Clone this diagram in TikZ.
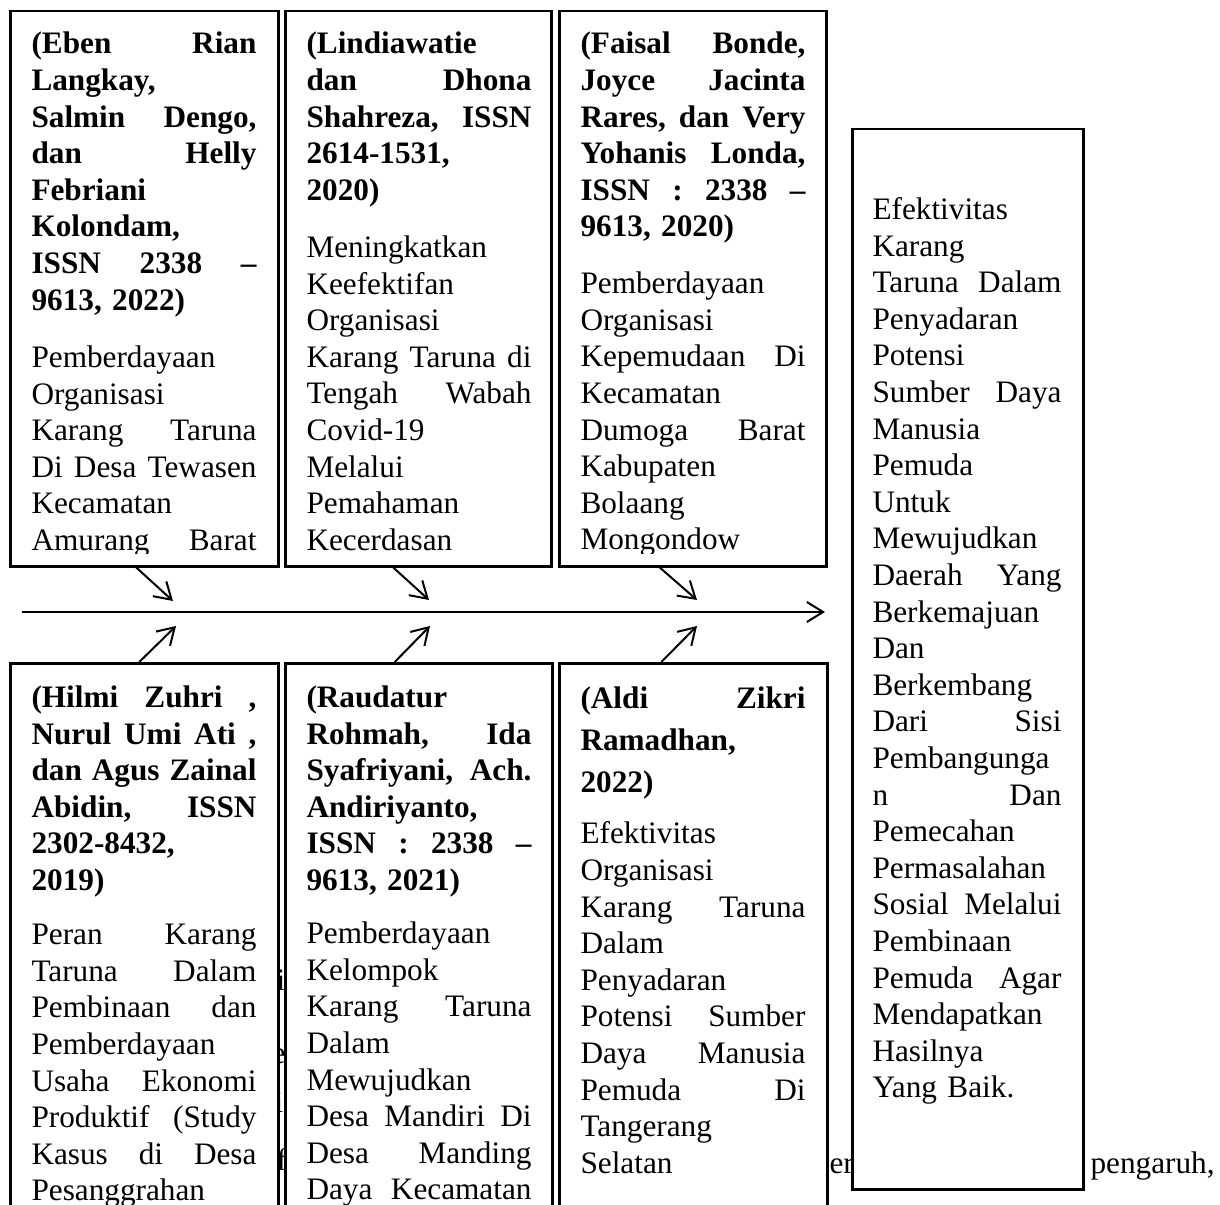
\documentclass[tikz,border=0pt]{standalone}
\usepackage{fontspec}
\setmainfont{Liberation Serif}
\usetikzlibrary{arrows.meta,calc}
\setlength{\parindent}{0pt}
\frenchspacing
\newcommand{\jl}[1]{\makebox[90pt][s]{\spaceskip=\fontdimen2\font plus 1fil\relax#1}}
\newcommand{\jlb}[1]{\makebox[75.6pt][s]{\spaceskip=\fontdimen2\font plus 1fil\relax#1}}
\newcommand{\fs}{\rule{0pt}{10pt}}
\begin{document}
\begin{tikzpicture}[x=0.4pt,y=-0.4pt,
  box/.style={draw, line width=1pt, fill=white, inner sep=0pt, anchor=north west},
  txt/.style={inner sep=0pt, anchor=north west, align=left, text width=90pt,
    font=\fontsize{12.5}{14.64}\selectfont},
  frag/.style={inner sep=0pt, anchor=base west, font=\fontsize{12.5}{14.64}\selectfont},
  arr/.style={line width=0.8pt, -{Straight Barb[length=6.5pt,width=8pt,line width=0.8pt]}}]
\useasboundingbox (0,0) rectangle (1220,1205);
\clip (0,0) rectangle (1220,1205);
% background text fragments
\node[frag] (f1) at (276,990) {i};
\node[frag] (f2) at (271,1063) {e};
\node[frag] (f3) at (274,1112) {is};
\node[frag] (f4) at (276,1170) {f};
\node[frag] (g1) at (829,1173) {er};
\node[frag] (g2) at (1090,1173) {pengaruh,};
% boxes
\node[box, minimum width=107.2pt, minimum height=222pt] (b1) at (9,10) {};
\node[box, minimum width=106.4pt, minimum height=222pt] (b2) at (284,10) {};
\node[box, minimum width=106.8pt, minimum height=222pt] (b3) at (558,10) {};
\node[box, minimum width=107.2pt, minimum height=230pt] (b4) at (9,662) {};
\node[box, minimum width=106.8pt, minimum height=230pt] (b5) at (284,662) {};
\node[box, minimum width=107.2pt, minimum height=230pt] (b6) at (558,662) {};
\node[box, minimum width=92.4pt, minimum height=424pt] (b7) at (851,128) {};
% texts
\begin{scope}
\clip ($(b1.north west)+(2,2)$) rectangle ($(b1.south east)+(-2,-14)$);
\node[txt] (t1) at (31,28.5) {{\bfseries\fs\jl{(Eben Rian}\\
Langkay,\\
\jl{Salmin Dengo,}\\
\jl{dan Helly}\\
Febriani\\
Kolondam,\\
\jl{ISSN 2338 –}\\
9613, 2022)}\\[8.3pt]
Pemberdayaan\\
Organisasi\\
\jl{Karang Taruna}\\
\jl{Di Desa Tewasen}\\
Kecamatan\\
\jl{Amurang Barat}};
\end{scope}
\begin{scope}
\clip ($(b2.north west)+(2,2)$) rectangle ($(b2.south east)+(-2,-14)$);
\node[txt] (t2) at (306,28.5) {{\bfseries\fs(Lindiawatie\\
\jl{dan Dhona}\\
\jl{Shahreza, ISSN}\\
2614-1531,\\
2020)}\\[8.2pt]
Meningkatkan\\
Keefektifan\\
Organisasi\\
\jl{Karang Taruna di}\\
\jl{Tengah Wabah}\\
Covid-19\\
Melalui\\
Pemahaman\\
Kecerdasan};
\end{scope}
\begin{scope}
\clip ($(b3.north west)+(2,2)$) rectangle ($(b3.south east)+(-2,-14)$);
\node[txt] (t3) at (580,28.5) {{\bfseries\fs\jl{(Faisal Bonde,}\\
\jl{Joyce Jacinta}\\
\jl{Rares, dan Very}\\
\jl{Yohanis Londa,}\\
\jl{ISSN : 2338 –}\\
9613, 2020)}\\[8.0pt]
Pemberdayaan\\
Organisasi\\
\jl{Kepemudaan Di}\\
Kecamatan\\
\jl{Dumoga Barat}\\
Kabupaten\\
Bolaang\\
Mongondow};
\end{scope}
\node[txt] (t4) at (31,682) {{\bfseries\fs\jl{(Hilmi Zuhri ,}\\
\jl{Nurul Umi Ati ,}\\
\jl{dan Agus Zainal}\\
\jl{Abidin, ISSN}\\
2302-8432,\\
2019)}\\[7.0pt]
\jl{Peran Karang}\\
\jl{Taruna Dalam}\\
\jl{Pembinaan dan}\\
Pemberdayaan\\
\jl{Usaha Ekonomi}\\
\jl{Produktif (Study}\\
\jl{Kasus di Desa}\\
Pesanggrahan};
\node[txt] (t5) at (306,682) {{\bfseries\fs(Raudatur\\
\jl{Rohmah, Ida}\\
\jl{Syafriyani, Ach.}\\
Andiriyanto,\\
\jl{ISSN : 2338 –}\\
9613, 2021)}\\[6.6pt]
Pemberdayaan\\
Kelompok\\
\jl{Karang Taruna}\\
Dalam\\
Mewujudkan\\
\jl{Desa Mandiri Di}\\
\jl{Desa Manding}\\
\jl{Daya Kecamatan}};
\node[txt] (t6) at (580,683) {{\bfseries\fs\jl{(Aldi Zikri}\\[2.2pt]
Ramadhan,\\[2.2pt]
2022)}\\[5.8pt]
Efektivitas\\
Organisasi\\
\jl{Karang Taruna}\\
Dalam\\
Penyadaran\\
\jl{Potensi Sumber}\\
\jl{Daya Manusia}\\
\jl{Pemuda Di}\\
Tangerang\\
Selatan};
\node[txt, text width=75.6pt] (t7) at (872,194) {\fs Efektivitas\\
Karang\\
\jlb{Taruna Dalam}\\
Penyadaran\\
Potensi\\
\jlb{Sumber Daya}\\
Manusia\\
Pemuda\\
Untuk\\
Mewujudkan\\
\jlb{Daerah Yang}\\
Berkemajuan\\
Dan\\
Berkembang\\
\jlb{Dari Sisi}\\
Pembangunga\\
\jlb{n Dan}\\
Pemecahan\\
Permasalahan\\
\jlb{Sosial Melalui}\\
Pembinaan\\
\jlb{Pemuda Agar}\\
Mendapatkan\\
Hasilnya\\
Yang Baik.};
% connectors
\coordinate (mL) at (22,612);
\coordinate (mR) at (825,612);
\draw[arr] (mL) -- (mR);
\coordinate (e1) at (173,601);
\coordinate (e2) at (429,600);
\coordinate (e3) at (697,600);
\coordinate (e4) at (176,626);
\coordinate (e5) at (430,626);
\coordinate (e6) at (697,626);
\draw[arr] ($(b1.south)+(-8,0)$) -- (e1);
\draw[arr] ($(b2.south)+(-25,0)$) -- (e2);
\draw[arr] ($(b3.south)+(-33,0)$) -- (e3);
\draw[arr] ($(b4.north)+(-5,0)$) -- (e4);
\draw[arr] ($(b5.north)+(-24,0)$) -- (e5);
\draw[arr] ($(b6.north)+(-32,0)$) -- (e6);
\end{tikzpicture}
\end{document}
